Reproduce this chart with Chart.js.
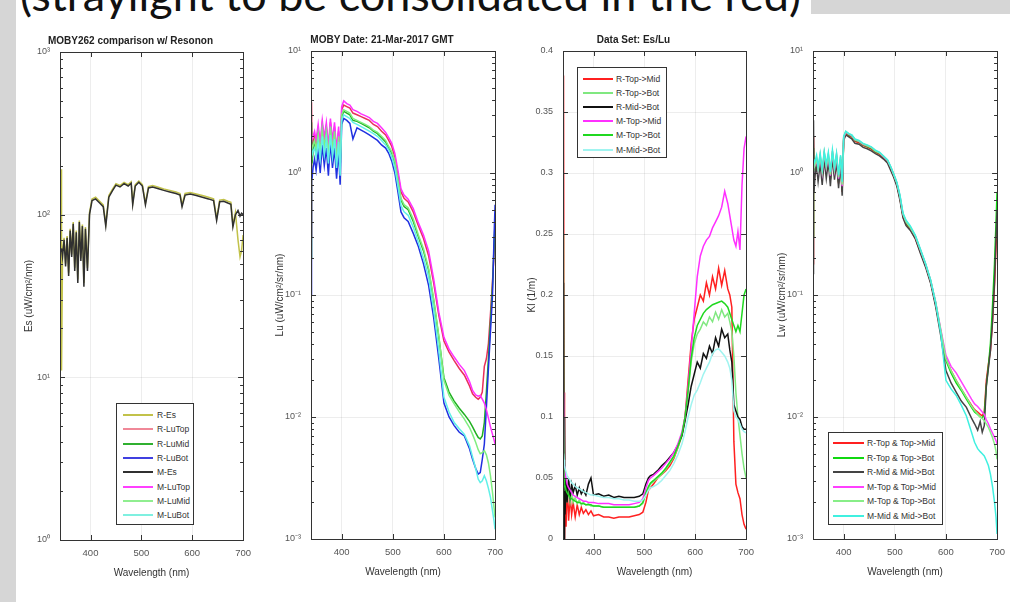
<!DOCTYPE html>
<html>
<head>
<meta charset="utf-8">
<script src="https://cdn.jsdelivr.net/npm/chart.js@4.4.1/dist/chart.umd.min.js"></script>
<style>
  html, body { margin: 0; padding: 0; }
  body { width: 1010px; height: 602px; overflow: hidden; position: relative; background: #d6d6d6; font-family: 'Liberation Sans', Arial, sans-serif; }
  #fig { position: absolute; left: 16px; top: 14px; width: 994px; height: 588px; background: #fff; }
  #headBox { position: absolute; left: 16px; top: 0; width: 795px; height: 14px; background: #fff; }
  #headline { position: absolute; left: 20px; top: -28px; font-family: Lato, 'Open Sans', sans-serif; font-size: 45px; line-height: 1; color: #111; white-space: nowrap; }
  .panel { position: absolute; }
  .legend { position: absolute; background: #fff; border: 1px solid #333; box-sizing: border-box; }
  .legend .row { position: absolute; left: 0; right: 0; height: 10px; }
  .legend .sw { position: absolute; top: 4px; height: 2px; }
  .legend .lb { position: absolute; top: 0; font-size: 8.5px; line-height: 10px; color: #333; white-space: nowrap; }
</style>
</head>
<body>
<div id="fig"></div>
<div id="headBox"></div>
<div id="headline">(straylight to be consolidated in the red)</div>

<div class="panel" id="p1"><canvas id="c1"></canvas></div>
<div class="panel" id="p2"><canvas id="c2"></canvas></div>
<div class="panel" id="p3"><canvas id="c3"></canvas></div>
<div class="panel" id="p4"><canvas id="c4"></canvas></div>
<div class="legend" id="lg1"></div>
<div class="legend" id="lg3"></div>
<div class="legend" id="lg4"></div>

<script>
// ---- Panel 1: Es (MOBY vs Resonon) ----
const wlEs = [340, 342, 343, 345, 348, 351, 354, 357, 360, 363, 366, 369, 372, 375, 378, 381, 384, 387, 390, 394,
  398, 403, 410, 418, 425, 430, 436, 443, 450, 458, 466, 474, 480, 483, 488, 495, 502, 508, 514, 522,
  532, 544, 556, 568, 576, 580, 586, 596, 608, 620, 632, 642, 648, 654, 662, 670, 676, 680, 685, 690,
  694, 697, 700];
const esR = [7, 190, 11, 58, 72, 50, 74, 44, 82, 57, 90, 47, 80, 40, 92, 54, 87, 38, 84, 47,
  103, 125, 128, 121, 115, 88, 131, 143, 155, 151, 158, 153, 159, 118, 153, 161, 153, 118, 149, 151,
  148, 144, 141, 138, 135, 115, 135, 137, 134, 131, 128, 125, 95, 123, 124, 121, 119, 87, 103, 70,
  55, 60, 75];
const esM = [null, null, 62, 55, 70, 48, 72, 42, 80, 55, 88, 45, 78, 38, 90, 52, 85, 36, 82, 45,
  100, 122, 125, 118, 112, 85, 128, 140, 152, 148, 155, 150, 156, 115, 150, 158, 150, 115, 146, 148,
  145, 141, 138, 135, 132, 112, 132, 134, 131, 128, 125, 122, 92, 120, 121, 118, 116, 84, 100, 106,
  98, 102, 100];

// ---- Panel 2 & 4: Lu and Lw ----
const wlLu = [340, 341, 342, 344, 347, 350, 354, 358, 362, 366, 370, 374, 378, 382, 386, 390, 394, 397, 400, 404,
  410, 416, 422, 430, 438, 446, 454, 462, 470, 478, 486, 492, 498, 504, 510, 516, 522, 530, 540, 550,
  560, 570, 580, 590, 600, 610, 620, 630, 640, 650, 656, 662, 667, 671, 675, 679, 683, 687, 691, 695,
  698, 700];
const luTopR = [0.3, 3.8, 1.4, 1.8, 2.0, 1.7, 2.3, 1.6, 2.5, 1.8, 2.4, 1.5, 2.6, 1.7, 2.4, 1.4, 2.2, 1.2, 3.3, 3.6,
  3.5, 3.4, 3.1, 3.0, 2.9, 2.8, 2.7, 2.5, 2.4, 2.2, 2.05, 1.85, 1.65, 1.35, 0.98, 0.7, 0.62, 0.58, 0.48, 0.37,
  0.29, 0.21, 0.125, 0.068, 0.042, 0.034, 0.029, 0.025, 0.022, 0.018, 0.0155, 0.0145, 0.014, 0.0145, 0.016, 0.026, 0.03, 0.04, 0.07, 0.13,
  0.22, 0.35];
const luMidR = [0.2, 2.6, 1.2, 1.5, 1.7, 1.45, 2.0, 1.4, 2.2, 1.6, 2.1, 1.35, 2.3, 1.5, 2.1, 1.25, 1.9, 1.1, 2.9, 3.2,
  3.1, 3.0, 2.7, 2.65, 2.55, 2.45, 2.35, 2.2, 2.1, 1.95, 1.8, 1.6, 1.45, 1.2, 0.85, 0.6, 0.53, 0.5, 0.4, 0.3,
  0.23, 0.16, 0.09, 0.045, 0.021, 0.016, 0.0135, 0.0118, 0.0105, 0.0092, 0.0083, 0.0074, 0.0068, 0.0066, 0.007, 0.009, 0.016, 0.03, 0.06, 0.12,
  0.25, 0.4];
const luBotR = [0.1, 1.0, 0.9, 1.1, 1.3, 1.05, 1.5, 1.0, 1.7, 1.15, 1.6, 0.95, 1.8, 1.1, 1.6, 0.9, 1.5, 0.8, 2.5, 2.8,
  2.7, 2.55, 1.9, 2.35, 2.25, 2.15, 2.05, 1.95, 1.85, 1.7, 1.6, 1.45, 1.25, 1.0, 0.7, 0.48, 0.43, 0.4, 0.32, 0.25,
  0.18, 0.12, 0.065, 0.03, 0.013, 0.01, 0.0085, 0.0075, 0.007, 0.0055, 0.0045, 0.0038, 0.0034, 0.0035, 0.0045, 0.006, 0.012, 0.025, 0.05, 0.1,
  0.3, 0.55];
const luTopM = [1.8, 2.0, 1.9, 2.0, 2.2, 1.85, 2.5, 1.75, 2.7, 1.95, 2.6, 1.65, 2.8, 1.85, 2.6, 1.55, 2.4, 1.35, 3.5, 3.9,
  3.7, 3.6, 3.3, 3.2, 3.05, 2.95, 2.85, 2.65, 2.55, 2.35, 2.15, 1.95, 1.75, 1.45, 1.05, 0.74, 0.66, 0.61, 0.51, 0.39,
  0.31, 0.23, 0.135, 0.072, 0.045, 0.036, 0.031, 0.027, 0.024, 0.0195, 0.0165, 0.0152, 0.0148, 0.015, 0.014, 0.013, 0.0115, 0.0098, 0.0083, 0.0072,
  0.0065, 0.006];
const luMidM = [1.5, 1.7, 1.6, 1.7, 1.85, 1.55, 2.1, 1.5, 2.3, 1.65, 2.2, 1.4, 2.4, 1.55, 2.2, 1.3, 2.0, 1.15, 3.0, 3.3,
  3.2, 3.1, 2.8, 2.7, 2.6, 2.5, 2.4, 2.25, 2.15, 2.0, 1.85, 1.65, 1.5, 1.25, 0.88, 0.62, 0.55, 0.52, 0.42, 0.31,
  0.24, 0.165, 0.092, 0.046, 0.02, 0.015, 0.0128, 0.011, 0.0096, 0.0082, 0.0072, 0.0062, 0.0054, 0.005, 0.0051, 0.0053, 0.0049, 0.0042, 0.0033, 0.0024,
  0.0018, 0.0015];
const luBotM = [1.3, 1.6, 1.4, 1.5, 1.6, 1.35, 1.8, 1.3, 2.0, 1.4, 1.9, 1.2, 2.05, 1.35, 1.9, 1.1, 1.8, 0.95, 2.7, 3.0,
  2.9, 2.8, 2.6, 2.5, 2.4, 2.3, 2.2, 2.1, 2.0, 1.85, 1.7, 1.55, 1.35, 1.1, 0.78, 0.54, 0.48, 0.45, 0.36, 0.27,
  0.2, 0.14, 0.075, 0.035, 0.0145, 0.011, 0.009, 0.008, 0.0072, 0.0058, 0.0047, 0.0038, 0.0031, 0.0029, 0.003, 0.0033, 0.003, 0.0026, 0.0022, 0.0017,
  0.0014, 0.0012];

const lwTopMidR = [0.18, 2.0, 0.85, 1.05, 1.25, 0.98, 1.3, 0.92, 1.38, 1.02, 1.32, 0.88, 1.42, 0.98, 1.32, 0.82, 1.28, 0.7, 1.88, 2.1,
  2.02, 1.97, 1.82, 1.77, 1.68, 1.63, 1.57, 1.48, 1.42, 1.33, 1.23, 1.08, 0.94, 0.8, 0.62, 0.44, 0.38, 0.35, 0.29, 0.225,
  0.175, 0.128, 0.083, 0.049, 0.03, 0.024, 0.02, 0.017, 0.0145, 0.0125, 0.0115, 0.011, 0.0105, 0.0102, 0.011, 0.02, 0.027, 0.035, 0.06, 0.12,
  0.25, 0.4];
const lwTopBotR = [0.3, 1.6, 0.9, 1.08, 1.28, 1.0, 1.33, 0.95, 1.4, 1.05, 1.35, 0.9, 1.45, 1.0, 1.35, 0.84, 1.3, 0.72, 1.92, 2.15,
  2.05, 2.0, 1.85, 1.8, 1.7, 1.65, 1.6, 1.5, 1.45, 1.35, 1.25, 1.1, 0.95, 0.82, 0.63, 0.45, 0.39, 0.355, 0.3, 0.23,
  0.178, 0.13, 0.085, 0.05, 0.029, 0.023, 0.019, 0.0165, 0.014, 0.012, 0.011, 0.0105, 0.01, 0.0098, 0.0105, 0.018, 0.026, 0.04, 0.08, 0.18,
  0.4, 0.7];
const lwMidBotR = [0.15, 2.7, 0.7, 0.95, 1.15, 0.85, 1.2, 0.8, 1.3, 0.9, 1.25, 0.78, 1.35, 0.88, 1.25, 0.75, 1.2, 0.65, 1.85, 2.05,
  1.98, 1.9, 1.75, 1.72, 1.62, 1.58, 1.52, 1.44, 1.38, 1.3, 1.2, 1.05, 0.92, 0.78, 0.6, 0.43, 0.37, 0.34, 0.29, 0.22,
  0.17, 0.125, 0.08, 0.046, 0.024, 0.019, 0.016, 0.0135, 0.012, 0.0098, 0.0088, 0.0078, 0.0092, 0.0075, 0.0085, 0.018, 0.025, 0.035, 0.06, 0.13,
  0.3, 0.5];
const lwTopMidM = [1.0, 1.2, 1.1, 1.15, 1.3, 1.05, 1.38, 1.0, 1.45, 1.1, 1.4, 0.95, 1.5, 1.05, 1.4, 0.9, 1.35, 0.78, 1.95, 2.15,
  2.08, 2.02, 1.87, 1.82, 1.72, 1.67, 1.62, 1.52, 1.46, 1.36, 1.26, 1.12, 0.97, 0.83, 0.65, 0.46, 0.4, 0.36, 0.305, 0.235,
  0.18, 0.132, 0.087, 0.052, 0.032, 0.026, 0.023, 0.0195, 0.0165, 0.014, 0.0128, 0.0122, 0.0115, 0.011, 0.0105, 0.0095, 0.0088, 0.008, 0.0074, 0.0068,
  0.0064, 0.006];
const lwTopBotM = [1.05, 1.25, 1.12, 1.18, 1.32, 1.06, 1.4, 1.02, 1.47, 1.12, 1.42, 0.97, 1.52, 1.07, 1.42, 0.92, 1.37, 0.8, 1.97, 2.18,
  2.1, 2.04, 1.88, 1.83, 1.73, 1.68, 1.62, 1.52, 1.47, 1.37, 1.27, 1.12, 0.97, 0.83, 0.65, 0.46, 0.4, 0.36, 0.305, 0.235,
  0.18, 0.132, 0.087, 0.051, 0.03, 0.024, 0.02, 0.017, 0.0145, 0.0123, 0.0113, 0.0106, 0.01, 0.0097, 0.0093, 0.0088, 0.0082, 0.0075, 0.0068, 0.006,
  0.0052, 0.0045];
const lwMidBotM = [1.15, 1.3, 1.2, 1.25, 1.4, 1.12, 1.45, 1.08, 1.5, 1.18, 1.48, 1.02, 1.55, 1.12, 1.45, 0.96, 1.4, 0.85, 2.0, 2.2,
  2.1, 2.05, 1.9, 1.85, 1.75, 1.7, 1.64, 1.54, 1.48, 1.38, 1.28, 1.13, 0.98, 0.84, 0.66, 0.47, 0.41, 0.37, 0.31, 0.238,
  0.182, 0.133, 0.086, 0.048, 0.02, 0.017, 0.015, 0.0125, 0.0102, 0.0075, 0.0062, 0.0055, 0.0052, 0.005, 0.0048, 0.0044, 0.004, 0.0034, 0.0027, 0.002,
  0.0015, 0.0011];

// ---- Panel 3: attenuation Kl ----
const wlK = [340, 341, 342, 343, 344, 346, 348, 351, 354, 357, 360, 364, 368, 372, 376, 380, 385, 390, 395, 400,
  410, 420, 430, 440, 450, 460, 470, 480, 490, 497, 503, 508, 512, 518, 526, 534, 542, 550, 558, 566,
  574, 580, 586, 592, 598, 604, 610, 616, 622, 628, 634, 640, 646, 652, 658, 664, 668, 672, 676, 680,
  684, 688, 692, 696, 700];
const kTopMidR = [0.05, 0.38, 0.12, 0.0, 0.03, 0.01, 0.045, 0.015, 0.035, 0.02, 0.03, 0.018, 0.028, 0.02, 0.026, 0.021, 0.024, 0.02, 0.023, 0.019,
  0.02, 0.018, 0.018, 0.017, 0.018, 0.018, 0.018, 0.019, 0.02, 0.022, 0.03, 0.04, 0.042, 0.045, 0.05, 0.053, 0.056, 0.06, 0.066, 0.075,
  0.085, 0.1, 0.13, 0.16, 0.18, 0.19, 0.2, 0.195, 0.21, 0.2, 0.215, 0.205, 0.222, 0.208, 0.22, 0.205, 0.2, 0.19, 0.08, 0.045,
  0.038, 0.033, 0.02, 0.012, 0.008];
const kTopBotR = [0.04, 0.25, 0.03, 0.05, 0.03, 0.045, 0.03, 0.04, 0.03, 0.037, 0.03, 0.034, 0.029, 0.032, 0.028, 0.03, 0.028, 0.029, 0.027, 0.027,
  0.027, 0.026, 0.026, 0.026, 0.026, 0.026, 0.026, 0.026, 0.027, 0.029, 0.037, 0.042, 0.045, 0.047, 0.05, 0.053, 0.057, 0.062, 0.067, 0.075,
  0.085, 0.098, 0.12, 0.145, 0.16, 0.168, 0.172, 0.178, 0.175, 0.182, 0.178, 0.186, 0.18, 0.188, 0.182, 0.185, 0.178, 0.17, 0.15, 0.12,
  0.1, 0.085, 0.07, 0.058, 0.05];
const kMidBotR = [0.03, 0.21, 0.0, 0.1, 0.02, 0.05, 0.03, 0.05, 0.035, 0.045, 0.038, 0.044, 0.036, 0.042, 0.037, 0.04, 0.036, 0.045, 0.05, 0.036,
  0.037, 0.035, 0.036, 0.034, 0.035, 0.034, 0.034, 0.034, 0.035, 0.037, 0.045, 0.05, 0.052, 0.053, 0.056, 0.06, 0.063, 0.067, 0.071, 0.077,
  0.085, 0.097, 0.11, 0.125, 0.135, 0.145, 0.14, 0.152, 0.148, 0.158, 0.152, 0.165, 0.158, 0.172, 0.165, 0.168, 0.155, 0.145, 0.11, 0.105,
  0.1, 0.098, 0.092, 0.09, 0.09];
const kTopMidM = [0.04, 0.12, 0.05, 0.06, 0.055, 0.05, 0.045, 0.042, 0.04, 0.038, 0.036, 0.035, 0.034, 0.033, 0.032, 0.031, 0.031, 0.03, 0.03, 0.03,
  0.029, 0.029, 0.029, 0.028, 0.028, 0.028, 0.028, 0.029, 0.03, 0.033, 0.042, 0.048, 0.05, 0.052, 0.055, 0.058, 0.062, 0.066, 0.071, 0.078,
  0.088, 0.1, 0.125, 0.155, 0.185, 0.215, 0.232, 0.24, 0.245, 0.248, 0.255, 0.26, 0.265, 0.272, 0.285, 0.275, 0.265, 0.255, 0.245, 0.24,
  0.252, 0.237, 0.29, 0.32, 0.33];
const kTopBotM = [0.04, 0.1, 0.05, 0.045, 0.043, 0.04, 0.038, 0.036, 0.034, 0.033, 0.032, 0.031, 0.03, 0.03, 0.029, 0.029, 0.028, 0.028, 0.028, 0.027,
  0.027, 0.026, 0.026, 0.026, 0.026, 0.026, 0.026, 0.026, 0.027, 0.03, 0.038, 0.043, 0.046, 0.048, 0.051, 0.054, 0.058, 0.063, 0.068, 0.076,
  0.086, 0.1, 0.122, 0.148, 0.165, 0.175, 0.18, 0.185, 0.188, 0.19, 0.192, 0.193, 0.194, 0.195, 0.193, 0.19, 0.185, 0.18, 0.175, 0.17,
  0.175, 0.17, 0.185, 0.2, 0.205];
const kMidBotM = [0.06, 0.07, 0.065, 0.06, 0.058, 0.055, 0.052, 0.05, 0.048, 0.046, 0.045, 0.043, 0.042, 0.041, 0.04, 0.039, 0.038, 0.037, 0.036, 0.036,
  0.035, 0.034, 0.034, 0.033, 0.033, 0.032, 0.032, 0.031, 0.031, 0.032, 0.036, 0.04, 0.042, 0.043, 0.045, 0.048, 0.052, 0.056, 0.062, 0.069,
  0.078, 0.088, 0.1, 0.11, 0.118, 0.122, 0.128, 0.135, 0.14, 0.145, 0.152, 0.155, 0.156, 0.153, 0.15, 0.145, 0.14, 0.13, 0.105, 0.1,
  0.098, 0.094, 0.09, 0.088, 0.087];

// ---- ticks ----
const xTicks = [400, 500, 600, 700];
const xTickLabels = ['400', '500', '600', '700'];
const esTicks = [1, 10, 100, 1000];
const esTickLabels = ['10\u2070', '10\u00b9', '10\u00b2', '10\u00b3'];
const luTicks = [0.001, 0.01, 0.1, 1, 10];
const luTickLabels = ['10\u207b\u00b3', '10\u207b\u00b2', '10\u207b\u00b9', '10\u2070', '10\u00b9'];
const kTicks = [0, 0.05, 0.1, 0.15, 0.2, 0.25, 0.3, 0.35, 0.4];
const kTickLabels = ['0', '0.05', '0.1', '0.15', '0.2', '0.25', '0.3', '0.35', '0.4'];

// ---- legends ----
const legend1Names = ['R-Es', 'R-LuTop', 'R-LuMid', 'R-LuBot', 'M-Es', 'M-LuTop', 'M-LuMid', 'M-LuBot'];
const legend1Colors = ['#c2c24a', '#f08898', '#30b030', '#4040e0', '#303030', '#ff40ff', '#90ee90', '#7ff0e0'];
const legend3Names = ['R-Top->Mid', 'R-Top->Bot', 'R-Mid->Bot', 'M-Top->Mid', 'M-Top->Bot', 'M-Mid->Bot'];
const legend3Colors = ['#ff2020', '#80e880', '#111111', '#ff30ff', '#20d820', '#a0f4f0'];
const legend4Names = ['R-Top & Top->Mid', 'R-Top & Top->Bot', 'R-Mid & Mid->Bot', 'M-Top & Top->Mid', 'M-Top & Top->Bot', 'M-Mid & Mid->Bot'];
const legend4Colors = ['#ff2020', '#10d810', '#444444', '#ff40ff', '#88ee88', '#40f0e0'];

const FONT = "'Liberation Sans', Arial, sans-serif";

// pair x/y lists into chart points
function pts(xs, ys) {
  return xs.map(function(x, i) { return { x: x, y: ys[i] }; });
}

function series(xs, list, colors) {
  // MATLAB draws later lines on top -> lower order on top in Chart.js
  return list.map(function(ys, i) {
    return {
      data: pts(xs, ys),
      borderColor: colors[i],
      borderWidth: 1.5,
      pointRadius: 0,
      tension: 0,
      order: list.length - i
    };
  });
}

// box, inward ticks and log minor ticks like a MATLAB axes
const matlabAxes = {
  id: 'matlabAxes',
  afterDatasetsDraw(chart) {
    const ctx = chart.ctx, a = chart.chartArea;
    const x = chart.scales.x, y = chart.scales.y;
    ctx.save();
    ctx.strokeStyle = '#333';
    ctx.lineWidth = 1;
    ctx.beginPath();
    x.ticks.forEach(function(t) {
      const px = Math.round(x.getPixelForValue(t.value)) + 0.5;
      ctx.moveTo(px, a.bottom); ctx.lineTo(px, a.bottom - 5);
      ctx.moveTo(px, a.top); ctx.lineTo(px, a.top + 5);
    });
    y.ticks.forEach(function(t) {
      const py = Math.round(y.getPixelForValue(t.value)) + 0.5;
      ctx.moveTo(a.left, py); ctx.lineTo(a.left + 5, py);
      ctx.moveTo(a.right, py); ctx.lineTo(a.right - 5, py);
    });
    if (y.type === 'logarithmic') {
      for (let e = Math.round(Math.log10(y.min)); e < Math.round(Math.log10(y.max)); e++) {
        for (let k = 2; k < 10; k++) {
          const py = Math.round(y.getPixelForValue(k * Math.pow(10, e))) + 0.5;
          ctx.moveTo(a.left, py); ctx.lineTo(a.left + 3, py);
          ctx.moveTo(a.right, py); ctx.lineTo(a.right - 3, py);
        }
      }
    }
    ctx.stroke();
    ctx.strokeRect(Math.round(a.left) + 0.5, Math.round(a.top) + 0.5,
      Math.round(a.right - a.left), Math.round(a.bottom - a.top));
    ctx.restore();
  }
};

function makePanel(n, box, title, yTitle, yType, yMin, yMax, yTicks, yTickLabels, datasets) {
  // box = plot area in page pixels
  const wrap = document.getElementById('p' + n);
  const canvas = document.getElementById('c' + n);
  const left = box.left - 48, top = box.top - 21;
  const w = (box.right - box.left) + 48 + 10;
  const h = (box.bottom - box.top) + 21 + 53 + 10;
  wrap.style.left = left + 'px';
  wrap.style.top = top + 'px';
  canvas.width = w;
  canvas.height = h;

  new Chart(canvas, {
    type: 'line',
    data: { datasets: datasets },
    options: {
      responsive: false,
      animation: false,
      events: [],
      layout: { padding: { left: 0, right: 10, top: 0, bottom: 10 } },
      plugins: {
        legend: { display: false },
        tooltip: { enabled: false },
        title: {
          display: true, text: title, color: '#222',
          font: { family: FONT, size: 10, weight: 'bold' },
          padding: { top: 4, bottom: 5 }
        }
      },
      scales: {
        x: {
          type: 'linear', min: 340, max: 700,
          afterBuildTicks: function(s) { s.ticks = xTicks.map(function(v) { return { value: v }; }); },
          afterFit: function(s) { s.height = 53; },
          grid: { color: 'rgba(0,0,0,0.07)', drawTicks: false },
          border: { display: false },
          ticks: {
            padding: 8, color: '#555', maxRotation: 0, autoSkip: false,
            font: { family: FONT, size: 9.5 },
            callback: function(v) { return xTickLabels[xTicks.indexOf(v)]; }
          },
          title: {
            display: true, text: 'Wavelength (nm)', color: '#333',
            font: { family: FONT, size: 10 }, padding: { top: 0, bottom: 14 }
          }
        },
        y: {
          type: yType, min: yMin, max: yMax,
          afterBuildTicks: function(s) { s.ticks = yTicks.map(function(v) { return { value: v }; }); },
          afterFit: function(s) { s.width = 48; },
          grid: { color: 'rgba(0,0,0,0.07)', drawTicks: false },
          border: { display: false },
          ticks: {
            padding: 10, color: '#555', autoSkip: false,
            font: { family: FONT, size: 9 },
            callback: function(v) { return yTickLabels[yTicks.indexOf(v)]; }
          },
          title: {
            display: true, text: yTitle, color: '#333',
            font: { family: FONT, size: 10 }, padding: { top: 11, bottom: 0 }
          }
        }
      }
    },
    plugins: [matlabAxes]
  });
}

function makeLegend(id, box, names, colors, sw) {
  const el = document.getElementById(id);
  el.style.left = box.left + 'px';
  el.style.top = box.top + 'px';
  el.style.width = box.width + 'px';
  el.style.height = box.height + 'px';
  names.forEach(function(name, i) {
    const row = document.createElement('div');
    row.className = 'row';
    row.style.top = (box.first + i * box.step - 5) + 'px';
    row.innerHTML = '<div class="sw" style="left:' + sw.left + 'px;width:' + sw.width +
      'px;background:' + colors[i] + '"></div><div class="lb" style="left:' + sw.label + 'px"></div>';
    row.querySelector('.lb').textContent = name;
    el.appendChild(row);
  });
}

makePanel(1, { left: 60, right: 249, top: 52, bottom: 540 },
  'MOBY262 comparison w/ Resonon', 'Es (uW/cm\u00b2/nm)', 'logarithmic', 1, 1000, esTicks, esTickLabels,
  series(wlEs, [esR, esM], [legend1Colors[0], legend1Colors[4]]));

makePanel(2, { left: 311, right: 501, top: 51, bottom: 539 },
  'MOBY Date: 21-Mar-2017 GMT', 'Lu (uW/cm\u00b2/sr/nm)', 'logarithmic', 0.001, 10, luTicks, luTickLabels,
  series(wlLu, [luTopR, luMidR, luBotR, luTopM, luMidM, luBotM],
    ['#e8305a', '#20b020', '#2030e0', '#ff30ff', '#80ee80', '#60f0e8']));

makePanel(3, { left: 563, right: 752, top: 51, bottom: 539 },
  'Data Set: Es/Lu', 'Kl (1/m)', 'linear', 0, 0.4, kTicks, kTickLabels,
  series(wlK, [kTopMidR, kTopBotR, kMidBotR, kTopMidM, kTopBotM, kMidBotM], legend3Colors));

makePanel(4, { left: 813, right: 1003, top: 51, bottom: 539 },
  '', 'Lw (uW/cm\u00b2/sr/nm)', 'logarithmic', 0.001, 10, luTicks, luTickLabels,
  series(wlLu, [lwTopMidR, lwTopBotR, lwMidBotR, lwTopMidM, lwTopBotM, lwMidBotM], legend4Colors));

makeLegend('lg1', { left: 116, top: 403, width: 78, height: 122, first: 11, step: 14.3 },
  legend1Names, legend1Colors, { left: 6, width: 30, label: 40 });
makeLegend('lg3', { left: 577, top: 67, width: 90, height: 91, first: 10.5, step: 14.2 },
  legend3Names, legend3Colors, { left: 5, width: 30, label: 38 });
makeLegend('lg4', { left: 828, top: 432, width: 115, height: 93, first: 10, step: 14.5 },
  legend4Names, legend4Colors, { left: 4, width: 31, label: 38 });
</script>
</body>
</html>
